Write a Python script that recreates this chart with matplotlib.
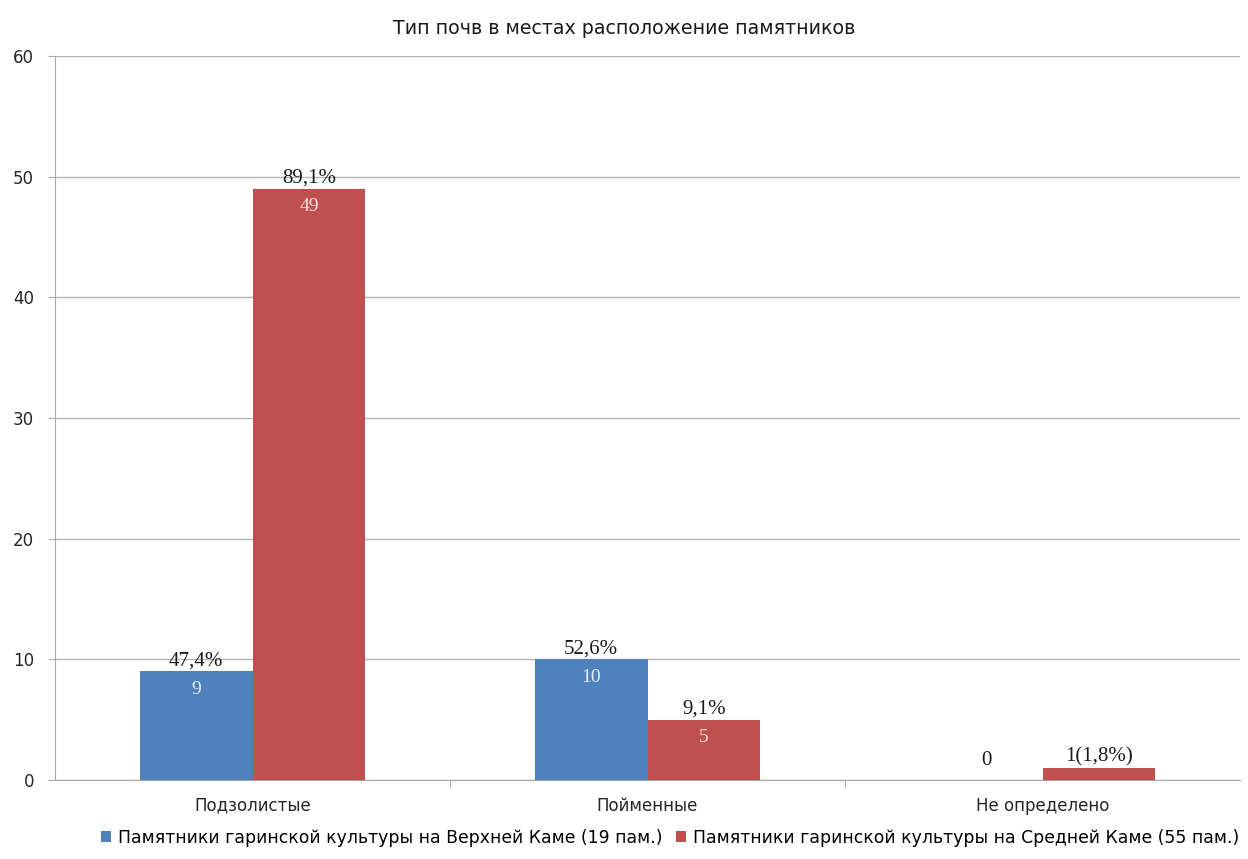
import numpy as np
import matplotlib.pyplot as plt

categories = ['Подзолистые', 'Пойменные', 'Не определено']
upper_kama = [9, 10, 0]
middle_kama = [49, 5, 1]
upper_pct = ['47,4%', '52,6%', '']
middle_pct = ['89,1%', '9,1%', '']
series_names = ['Памятники гаринской культуры на Верхней Каме (19 пам.)',
                'Памятники гаринской культуры на Средней Каме (55 пам.)']
title = 'Тип почв в местах расположение памятников'

sans = ['DejaVu Sans']
serif = ['Liberation Serif', 'DejaVu Serif']
plt.rcParams['font.family'] = sans

fig = plt.figure(figsize=(12.48, 8.59), dpi=100)
ax = fig.add_axes([55 / 1248, 1 - 780 / 859, 1185 / 1248, 724 / 859])

x = np.arange(len(categories))
w = 0.286
blue = '#4F81BD'
red = '#C0504D'
ax.bar(x - w / 2, upper_kama, w, color=blue, label=series_names[0], zorder=3)
ax.bar(x + w / 2, middle_kama, w, color=red, label=series_names[1], zorder=3)

ax.set_xlim(-0.5, 2.5)
ax.set_ylim(0, 60)
ax.set_yticks(range(0, 61, 10))
ax.yaxis.grid(True, color='#b4b4b4', lw=1, zorder=0)
for s in ['top', 'right']:
    ax.spines[s].set_visible(False)
ax.spines['left'].set_color('#a6a6a6')
ax.spines['bottom'].set_color('#a6a6a6')
ax.set_xticks(x)
ax.set_xticklabels(categories, fontsize=12, color='#262626')
ax.tick_params(axis='x', length=0, pad=12)
ax.set_xticks([0.5, 1.5], minor=True)
ax.tick_params(axis='x', which='minor', length=6, color='#a6a6a6')
ax.tick_params(axis='y', labelsize=12, labelcolor='#262626', color='#a6a6a6', length=5, pad=10)

# values and percentages
for i in range(len(categories)):
    v = upper_kama[i]
    if v > 0:
        ax.text(x[i] - w / 2, v + 0.1, upper_pct[i], ha='center', va='bottom',
                fontsize=15, family=serif, color='#1a1a1a', zorder=4)
        ax.text(x[i] - w / 2, v - 0.8, str(v), ha='center', va='top',
                fontsize=14, family=serif, color='#e6eef8', zorder=4)
    else:
        ax.text(x[i] - w / 2, 0.8, str(v), ha='center', va='bottom',
                fontsize=15, family=serif, color='#1a1a1a', zorder=4)
    v = middle_kama[i]
    if middle_pct[i]:
        ax.text(x[i] + w / 2, v + 0.1, middle_pct[i], ha='center', va='bottom',
                fontsize=15, family=serif, color='#1a1a1a', zorder=4)
        ax.text(x[i] + w / 2, v - 0.8, str(v), ha='center', va='top',
                fontsize=14, family=serif, color='#f5e1e0', zorder=4)
    else:
        ax.text(x[i] + w / 2, v + 0.1, '1(1,8%)', ha='center', va='bottom',
                fontsize=15, family=serif, color='#1a1a1a', zorder=4)

fig.text(0.5, 1 - 28 / 859, title, ha='center', va='center', fontsize=13.7, color='#1a1a1a')

fig.legend(loc='center', bbox_to_anchor=(670 / 1248, 1 - 838 / 859), ncol=2, frameon=False,
           fontsize=12.4, handlelength=0.6, handleheight=0.6, handletextpad=0.4,
           columnspacing=0.8)

fig.savefig('out.png', dpi=100)
